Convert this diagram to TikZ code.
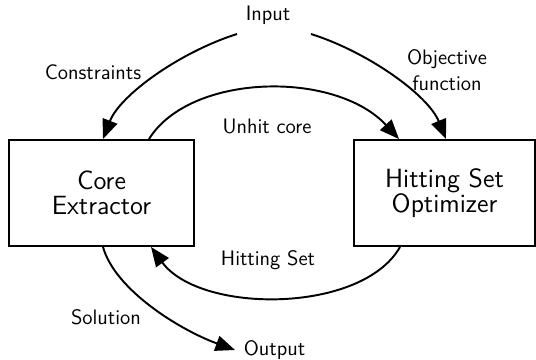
\documentclass[tikz,border=0pt]{standalone}
\usetikzlibrary{arrows.meta}
\renewcommand\familydefault{\sfdefault}
\begin{document}
\begin{tikzpicture}[x=0.02cm,y=-0.02cm,
  lbl/.style={font=\fontsize{11.9}{14.6}\selectfont, inner sep=0pt, align=center},
  blk/.style={draw, line width=1.1pt, inner sep=0pt, align=center, font=\fontsize{15}{14.3}\selectfont},
  conn/.style={line width=1.1pt, -{Triangle[length=3.9mm,width=3.1mm]}},
  plain/.style={line width=1.1pt}]
\useasboundingbox (0,0) rectangle (536,359);
\node[blk, minimum width=185*0.02cm, minimum height=106*0.02cm] (core) at (101.5,193) {Core\\Extractor};
\node[blk, minimum width=181*0.02cm, minimum height=106*0.02cm] (hs) at (444.5,193) {Hitting Set\\Optimizer};
\node[lbl] (input) at (268,15) {Input};
\node[lbl, anchor=west, outer sep=5pt] (output) at (235,350) {Output};
\node[lbl] (lc) at (93,72) {Constraints};
\node[lbl] (lo) at (447,70) {Objective\\function};
\node[lbl] (lu) at (267,126) {Unhit core};
\node[lbl] (lh) at (268,260) {Hitting Set};
\node[lbl] (ls) at (106,317) {Solution};
\coordinate (cin) at (237,34);
\coordinate (oin) at (311,34);
\draw[conn] (cin) .. controls (180,52) and (120,95) .. (core.north -| 103,0);
\draw[conn] (oin) .. controls (368,52) and (428,95) .. (hs.north -| 446,0);
\draw[conn] (core.north -| 149,0) .. controls (190,73) and (335,70) .. (hs.north -| 399,0);
\draw[conn] (hs.south -| 400,0) .. controls (362,314) and (200,314) .. (core.south -| 151,0);
\draw[conn] (core.south -| 103,0) .. controls (115,290) and (180,330) .. (output.west);
\end{tikzpicture}
\end{document}
